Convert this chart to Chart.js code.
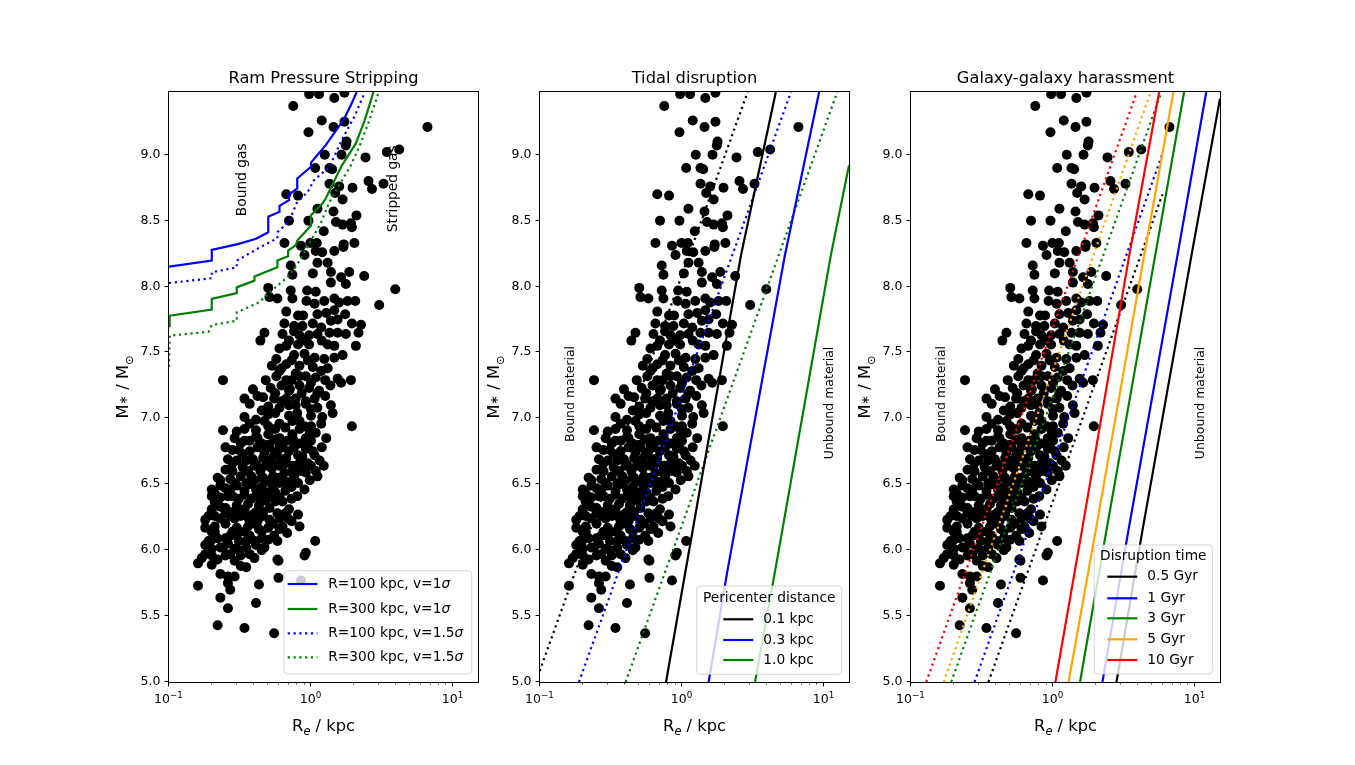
<!DOCTYPE html>
<html><head><meta charset="utf-8">
<script src="https://cdn.jsdelivr.net/npm/chart.js@4.4.0/dist/chart.umd.min.js"></script>
<style>
html,body{margin:0;padding:0;background:#fff;width:1355px;height:765px;overflow:hidden;}
.p{position:absolute;top:40px;width:410px;height:725px;}
</style></head><body>
<div class="p" id="w0"><canvas id="c0"></canvas></div>
<div class="p" id="w1"><canvas id="c1"></canvas></div>
<div class="p" id="w2"><canvas id="c2"></canvas></div>
<script>
// ---------- DATA ----------
const galaxyRe = [
0.97,1.14,1.46,1.72,0.75,1.19,1.72,1.44,0.96,6.61,
1.78,1.76,1.25,1.64,2.42,3.42,4.18,1.35,1.07,1.41,
2.54,2.69,3.24,1.96,1.35,1.58,1.48,0.67,0.81,1.67,
1.11,1.44,2.09,0.70,0.96,1.50,1.67,1.91,1.94,1.23,
0.65,0.99,1.10,1.70,2.02,0.85,
0.90,1.08,1.20,1.46,1.69,0.72,0.74,1.03,1.11,1.31,
1.38,1.86,1.63,1.38,1.76,2.37,3.92,0.50,0.51,0.58,
0.72,0.74,0.94,1.08,0.93,1.06,1.24,1.46,1.58,1.81,
2.05,3.02,0.67,0.81,0.88,1.11,1.28,1.46,1.74,1.38,
1.54,0.76,0.87,1.03,1.18,1.94,2.25,0.47,0.44,0.63,
0.70,0.83,0.97,1.11,1.35,1.54,1.76,2.16,0.81,0.97,
1.31,2.07,0.60,0.67,0.57,0.76,0.90,1.06,1.24,1.46,
1.67,0.67,0.83,1.03,1.18,0.24,0.48,0.57,0.67,0.78,
0.92,1.08,1.54,1.63,1.91,0.39,0.52,0.62,0.70,0.83,
0.97,1.14,0.46,0.55,0.67,0.78,0.92,1.06,0.37,1.38,
0.50,0.34,0.41,0.60,0.70,0.92,1.11,1.42,1.20,1.18,
1.94,0.24,0.41,0.60,0.74,0.90,1.08,1.28,0.42,0.50,
0.60,0.74,0.92,0.25,0.28,0.32,0.42,0.51,0.63,0.76,
0.95,1.03,0.33,0.30,0.39,0.46,0.55,0.67,0.81,1.06,
0.33,0.40,0.48,0.60,0.74,0.90,0.25,0.22,0.27,0.32,
0.38,0.45,0.54,0.65,0.76,0.92,1.11,0.20,0.25,0.30,
0.37,0.45,0.54,0.60,0.72,0.90,0.20,0.23,0.28,0.34,
0.41,0.50,0.60,0.63,0.25,0.30,0.36,0.43,0.51,0.70,
0.81,0.21,0.27,0.32,0.39,0.46,0.51,0.18,0.18,0.21,
0.25,0.30,0.36,0.43,0.50,0.60,0.63,0.68,0.22,0.27,
0.31,0.37,0.45,1.07,0.18,0.20,0.24,0.29,0.35,0.41,
0.47,0.92,0.90,0.17,0.20,0.25,0.32,0.58,0.16,0.20,
0.32,0.35,0.59,0.23,0.26,0.29,0.59,0.43,0.16,0.26,
0.27,0.23,0.41,0.26,0.22,0.34,0.55,0.85,
0.45,0.80,1.00,0.34,0.50,0.66,0.83,1.00,0.29,0.37,
0.47,0.58,0.70,0.87,1.19,0.36,0.44,0.53,0.66,0.83,
1.00,0.28,0.23,0.34,0.41,0.48,0.66,0.80,0.23,0.28,
0.34,0.41,0.58,0.69,0.56,0.20,0.28,0.34,0.40,0.55,
0.19,0.26,0.22,0.29,0.40,0.34,1.26,1.37,
0.53,0.62,0.73,0.95,1.31,1.46,0.56,1.26,0.73,0.86,
1.00,0.70,0.62,0.42,1.11,0.65,1.19,0.90,0.76,
0.30,0.37,0.45,0.55,0.68,0.83,1.00,0.26,0.35,0.51,
0.62,0.73,0.95,1.15,0.23,0.29,0.40,0.50,0.67,0.81,
0.98,1.23,0.31,
0.21,0.26,0.31,0.38,0.45,0.53,0.73,0.19,0.23,0.29,
0.36,0.42,0.60,0.73,0.83,0.20,0.25,0.30,0.40,0.50,
0.58,0.27,0.37,0.23,
0.21,0.27,0.35,0.45,0.56,0.20,0.25,0.30,0.37,0.46,
0.54,0.66,0.21,0.35,0.45,0.18,0.31,0.45,0.34,0.41,
0.50,0.60,0.75,0.92,0.28,0.41,0.56,0.83,1.08,0.46,
0.60,0.73,0.37,0.47,0.56,0.83,0.98,0.56,0.78,0.50,
0.71,1.00,0.83,0.60];
const galaxyMass = [
9.46,9.46,9.43,9.47,9.37,9.26,9.25,9.21,9.17,9.21,
9.10,9.07,9.00,9.00,8.98,9.02,9.04,8.90,8.90,8.89,
8.80,8.74,8.78,8.75,8.78,8.76,8.71,8.70,8.69,8.66,
8.59,8.57,8.54,8.50,8.50,8.49,8.47,8.48,8.45,8.42,
8.33,8.33,8.33,8.32,8.33,8.31,
8.24,8.27,8.26,8.27,8.30,8.16,8.09,8.10,8.18,8.18,
8.11,8.11,8.07,8.03,8.02,8.08,7.98,7.99,7.92,7.91,
7.97,7.91,7.97,7.96,7.89,7.87,7.89,7.91,7.88,7.89,
7.89,7.86,7.81,7.78,7.78,7.79,7.80,7.82,7.79,7.74,
7.75,7.70,7.70,7.72,7.69,7.72,7.71,7.65,7.59,7.64,
7.59,7.63,7.63,7.64,7.65,7.65,7.64,7.65,7.56,7.56,
7.56,7.55,7.53,7.55,7.45,7.48,7.49,7.46,7.45,7.46,
7.48,7.41,7.40,7.39,7.36,7.29,7.29,7.32,7.29,7.34,
7.32,7.31,7.30,7.27,7.29,7.22,7.23,7.25,7.21,7.25,
7.23,7.21,7.16,7.15,7.15,7.15,7.13,7.15,7.11,7.10,
7.03,7.01,6.99,7.08,7.10,7.11,7.08,7.04,7.01,6.96,
6.94,6.91,6.91,6.96,6.98,6.94,6.89,6.85,6.85,6.88,
6.85,6.88,6.85,6.78,6.76,6.81,6.78,6.78,6.78,6.78,
6.79,6.75,6.73,6.68,6.69,6.70,6.72,6.70,6.72,6.72,
6.63,6.64,6.64,6.64,6.64,6.65,6.61,6.55,6.54,6.56,
6.56,6.55,6.56,6.59,6.56,6.59,6.56,6.46,6.47,6.49,
6.50,6.48,6.49,6.51,6.50,6.46,6.41,6.40,6.41,6.42,
6.41,6.44,6.40,6.37,6.32,6.34,6.35,6.34,6.32,6.31,
6.27,6.26,6.26,6.26,6.27,6.26,6.23,6.23,6.17,6.18,
6.20,6.17,6.18,6.16,6.17,6.16,6.18,6.13,6.09,6.11,
6.07,6.11,6.09,6.07,6.04,6.01,6.02,6.01,6.02,6.04,
6.02,5.98,5.96,5.94,5.96,5.96,5.96,5.93,5.90,5.89,
5.88,5.87,5.92,5.82,5.80,5.80,5.79,5.74,5.73,5.75,
5.70,5.64,5.60,5.56,5.43,5.41,5.37,5.77,
7.06,7.04,7.02,6.92,6.94,6.93,6.92,6.83,6.85,6.75,
6.74,6.75,6.75,6.71,6.78,6.60,6.60,6.62,6.66,6.60,
6.64,6.60,6.49,6.45,6.46,6.38,6.45,6.41,6.33,6.29,
6.31,6.29,6.28,6.24,6.37,6.14,6.14,6.14,6.20,6.11,
6.07,6.05,5.93,5.92,5.94,7.15,7.17,7.25,
7.40,7.38,7.44,7.44,7.38,7.55,7.19,7.29,7.29,7.19,
7.07,7.02,7.13,7.17,7.19,7.72,7.59,7.59,7.66,
6.90,6.83,6.81,6.84,6.83,6.81,6.94,6.69,6.68,6.68,
6.69,6.59,6.66,6.68,6.53,6.51,6.53,6.52,6.52,6.51,
6.53,6.64,6.76,
6.37,6.41,6.39,6.39,6.37,6.41,6.39,6.26,6.24,6.24,
6.25,6.22,6.24,6.22,6.18,6.08,6.09,6.11,6.07,6.08,
6.07,5.97,5.97,6.02,
6.43,6.46,6.51,6.44,6.44,6.31,6.28,6.31,6.22,6.29,
6.20,6.28,6.14,6.07,6.14,5.97,6.00,6.00,6.83,6.86,
6.80,6.80,6.84,6.77,6.66,6.65,6.65,6.66,6.60,6.55,
6.55,6.48,6.96,6.98,6.92,6.98,6.90,7.04,7.10,7.09,
7.22,7.27,7.32,7.36];

// Ram pressure stripping curves [Re, logM]
const ramR100v1 = [[0.1,8.151],[0.2,8.197],[0.2,8.278],[0.31,8.324],[0.41,8.362],[0.5,8.412],[0.5,8.530],[0.6,8.567],[0.6,8.612],[0.7,8.655],[0.7,8.698],[0.8,8.744],[0.8,8.82],[1.0,8.909],[1.0,8.94],[1.27,9.073],[1.71,9.271],[1.91,9.377],[2.1,9.476]];
const ramR300v1 = [[0.1,7.70],[0.101,7.779],[0.2,7.825],[0.2,7.906],[0.3,7.951],[0.3,7.994],[0.4,8.045],[0.4,8.077],[0.58,8.146],[0.58,8.197],[0.69,8.23],[0.69,8.273],[0.78,8.313],[0.8,8.349],[1.0,8.463],[1.0,8.541],[1.2,8.628],[1.27,8.668],[1.63,8.909],[2.07,9.086],[2.37,9.251],[2.58,9.377],[2.75,9.476]];
const ramR100v15 = [[0.1,8.027],[0.2,8.063],[0.2,8.108],[0.3,8.146],[0.3,8.197],[0.43,8.293],[0.58,8.367],[0.58,8.412],[0.7,8.495],[0.8,8.643],[0.95,8.719],[1.05,8.807],[1.35,8.909],[1.67,9.124],[2.02,9.289],[2.4,9.476]];
const ramR300v15 = [[0.1,7.39],[0.101,7.627],[0.19,7.657],[0.2,7.708],[0.3,7.741],[0.3,7.804],[0.43,7.88],[0.53,7.97],[0.68,8.07],[0.79,8.159],[1.0,8.349],[1.17,8.48],[1.35,8.643],[1.58,8.769],[1.91,8.921],[2.19,9.061],[2.58,9.263],[3.0,9.476]];
const ramLabels = ['R=100 kpc, v=1', 'R=300 kpc, v=1', 'R=100 kpc, v=1.5', 'R=300 kpc, v=1.5'];

// Tidal disruption curves
const tidal01 = [[0.772,5.0],[1.22,6.22],[2.60,8.235],[4.58,9.476]];
const tidal03 = [[1.54,5.0],[2.09,5.845],[5.30,8.235],[9.24,9.476]];
const tidal10 = [[3.27,5.0],[4.53,5.845],[11.16,8.235],[15,8.92]];
const tidal01Dot = [[0.0933,5.0],[2.9,9.476]];
const tidal03Dot = [[0.188,5.0],[5.85,9.476]];
const tidal10Dot = [[0.401,5.0],[12.4,9.476]];
const tidalLabels = ['0.1 kpc','0.3 kpc','1.0 kpc'];

// Harassment curves
const har05 = [[2.80,5.0],[4.27,6.152],[9.44,8.235],[15,9.426]];
const har1 = [[2.23,5.0],[3.40,6.152],[7.52,8.235],[12.0,9.476]];
const har3 = [[1.55,5.0],[2.38,6.152],[5.24,8.235],[8.38,9.476]];
const har5 = [[1.287,5.0],[2.00,6.152],[4.38,8.235],[7.05,9.476]];
const har10 = [[1.04,5.0],[1.60,6.152],[3.44,8.235],[5.59,9.476]];
const har05Dot = [[0.351,5.0],[5.90,8.70]];
const har1Dot = [[0.28,5.0],[5.90,9.008]];
const har3Dot = [[0.192,5.0],[5.80,9.476]];
const har5Dot = [[0.170,5.0],[4.87,9.476]];
const har10Dot = [[0.128,5.0],[3.90,9.476]];
const harLabels = ['0.5 Gyr','1 Gyr','3 Gyr','5 Gyr','10 Gyr'];

const xTickValues = [0.1, 1, 10];
const xTickExp = ['\u22121', '0', '1'];
const xMinorValues = [0.2,0.3,0.4,0.5,0.6,0.7,0.8,0.9,2,3,4,5,6,7,8,9];
const yTickValues = [5.0,5.5,6.0,6.5,7.0,7.5,8.0,8.5,9.0];
const titles = ['Ram Pressure Stripping','Tidal disruption','Galaxy-galaxy harassment'];

// ---------- RENDER ----------
const FAM = '"DejaVu Sans", sans-serif';
const BLUE='#0000ff', GREEN='#008000', BLACK='#000000', ORANGE='#ffa500', RED='#ff0000';
const LW=2.2, DOT=[2.2,3.6];
function font(s,it){return (it?'italic ':'')+s+'px '+FAM;}
function drawParts(ctx,x,y,parts,align){
  let w=0;
  parts.forEach(p=>{ctx.font=font(p.s,p.it);p.w=ctx.measureText(p.t).width;w+=p.w;});
  let cx = align==='center'?x-w/2:(align==='right'?x-w:x);
  ctx.textAlign='left';
  parts.forEach(p=>{ctx.font=font(p.s,p.it);ctx.fillText(p.t,cx,y+(p.dy||0));cx+=p.w;});
}
function roundRect(ctx,x,y,w,h,r){ctx.beginPath();ctx.moveTo(x+r,y);ctx.arcTo(x+w,y,x+w,y+h,r);ctx.arcTo(x+w,y+h,x,y+h,r);ctx.arcTo(x,y+h,x,y,r);ctx.arcTo(x,y,x+w,y,r);ctx.closePath();}

function lineDs(pairs,color,dotted){
  return {data:pairs.map(p=>({x:p[0],y:p[1]})),showLine:true,borderColor:color,backgroundColor:color,
    borderWidth:LW,borderDash:dotted?DOT:[],borderCapStyle:'butt',pointRadius:0,pointHoverRadius:0,
    fill:false,tension:0,order:1,clip:0};
}
function scatterDs(){
  return {data:galaxyRe.map((x,i)=>({x:x,y:galaxyMass[i]})),pointRadius:5,pointHoverRadius:5,
    pointBackgroundColor:'#000',pointBorderColor:'#000',pointBorderWidth:0,showLine:false,order:5,clip:0};
}

const panels = [
 { datasets:[lineDs(ramR100v1,BLUE,false),lineDs(ramR300v1,GREEN,false),lineDs(ramR100v15,BLUE,true),lineDs(ramR300v15,GREEN,true)],
   notes:[{t:'Bound gas',x:0.33,y:8.81,s:13.75},{t:'Stripped gas',x:3.8,y:8.742,s:13.75}],
   legend:{right:6.3,bottom:8,w:187.7,h:103.3,title:null,h0:3.7,h1:33.3,tx:44.3,rows:[13.3,38.3,62.6,86.6]},
   entries:ramLabels.map((l,i)=>({parts:[{t:l,s:13.75},{t:'\u03c3',s:13.75,it:true}],color:[BLUE,GREEN,BLUE,GREEN][i],dotted:i>=2})) },
 { datasets:[lineDs(tidal01,BLACK,false),lineDs(tidal03,BLUE,false),lineDs(tidal10,GREEN,false),lineDs(tidal01Dot,BLACK,true),lineDs(tidal03Dot,BLUE,true),lineDs(tidal10Dot,GREEN,true)],
   notes:[{t:'Bound material',x:0.165,y:7.185,s:12.5},{t:'Unbound material',x:11.0,y:7.117,s:12.5}],
   legend:{right:7.3,bottom:7.7,w:145,h:88.3,title:'Pericenter distance',titleY:12.3,h0:26.6,h1:56.6,tx:66.6,rows:[33.3,54,74]},
   entries:tidalLabels.map((l,i)=>({parts:[{t:l,s:13.75}],color:[BLACK,BLUE,GREEN][i],dotted:false})) },
 { datasets:[lineDs(har05,BLACK,false),lineDs(har1,BLUE,false),lineDs(har3,GREEN,false),lineDs(har5,ORANGE,false),lineDs(har10,RED,false),
             lineDs(har05Dot,BLACK,true),lineDs(har1Dot,BLUE,true),lineDs(har3Dot,GREEN,true),lineDs(har5Dot,ORANGE,true),lineDs(har10Dot,RED,true)],
   notes:[{t:'Bound material',x:0.165,y:7.185,s:12.5},{t:'Unbound material',x:11.0,y:7.117,s:12.5}],
   legend:{right:7.7,bottom:8,w:118,h:129,title:'Disruption time',titleY:11,h0:13,h1:43,tx:53,rows:[31.7,53.3,73.3,94.3,115]},
   entries:harLabels.map((l,i)=>({parts:[{t:l,s:13.75}],color:[BLACK,BLUE,GREEN,ORANGE,RED][i],dotted:false})) }
];
const areaLefts=[169,540,911];

function makePlugin(pi){
  const P=panels[pi];
  return {id:'mpl'+pi, afterDatasetsDraw(chart){
    const ctx=chart.ctx,a=chart.chartArea,xs=chart.scales.x,ys=chart.scales.y;
    ctx.save();
    ctx.fillStyle='#000';
    P.notes.forEach(n=>{ctx.save();ctx.translate(xs.getPixelForValue(n.x),ys.getPixelForValue(n.y));ctx.rotate(-Math.PI/2);
      ctx.font=font(n.s);ctx.textAlign='center';ctx.textBaseline='middle';ctx.fillText(n.t,0,0);ctx.restore();});
    const L=P.legend, bx=a.right-L.right-L.w, by=a.bottom-L.bottom-L.h;
    roundRect(ctx,bx,by,L.w,L.h,3.5);
    ctx.fillStyle='rgba(255,255,255,0.8)';ctx.fill();
    ctx.strokeStyle='rgba(204,204,204,0.8)';ctx.lineWidth=1;ctx.stroke();
    ctx.fillStyle='#000';ctx.textBaseline='middle';
    if(L.title){ctx.font=font(13.75);ctx.textAlign='center';ctx.fillText(L.title,bx+L.w/2,by+L.titleY);}
    P.entries.forEach((e,i)=>{const y=by+L.rows[i];
      ctx.beginPath();ctx.setLineDash(e.dotted?DOT:[]);ctx.lineCap='butt';ctx.strokeStyle=e.color;ctx.lineWidth=LW;
      ctx.moveTo(bx+L.h0,y);ctx.lineTo(bx+L.h1,y);ctx.stroke();ctx.setLineDash([]);
      ctx.fillStyle='#000';ctx.textBaseline='middle';drawParts(ctx,bx+L.tx,y,e.parts,'left');});
    ctx.strokeStyle='#000';ctx.lineWidth=1;
    ctx.strokeRect(a.left-0.5,a.top-0.5,a.right-a.left+1,a.bottom-a.top+1);
    xTickValues.forEach((v,i)=>{const x=Math.round(xs.getPixelForValue(v))-0.5;
      ctx.beginPath();ctx.lineWidth=1;ctx.moveTo(x,a.bottom);ctx.lineTo(x,a.bottom+4.4);ctx.stroke();
      ctx.fillStyle='#000';ctx.textBaseline='alphabetic';
      drawParts(ctx,x,a.bottom+21,[{t:'10',s:12.5},{t:xTickExp[i],s:8.75,dy:-5.5}],'center');});
    xMinorValues.forEach(v=>{const x=Math.round(xs.getPixelForValue(v))-0.5;
      ctx.beginPath();ctx.lineWidth=0.75;ctx.moveTo(x,a.bottom);ctx.lineTo(x,a.bottom+2.5);ctx.stroke();});
    yTickValues.forEach(v=>{const y=Math.round(ys.getPixelForValue(v))-0.5;
      ctx.beginPath();ctx.lineWidth=1;ctx.moveTo(a.left,y);ctx.lineTo(a.left-4.4,y);ctx.stroke();
      ctx.font=font(12.5);ctx.textAlign='right';ctx.textBaseline='middle';ctx.fillText(v.toFixed(1),a.left-8.5,y);});
    ctx.font=font(16.25);ctx.textAlign='center';ctx.textBaseline='alphabetic';
    ctx.fillText(titles[pi],(a.left+a.right)/2,a.top-9.3);
    drawParts(ctx,(a.left+a.right)/2,a.bottom+49,[{t:'R',s:16.25},{t:'e',s:11.4,dy:3.5,it:true},{t:' / kpc',s:16.25}],'center');
    ctx.save();ctx.translate(a.left-41,(a.top+a.bottom)/2);ctx.rotate(-Math.PI/2);
    drawParts(ctx,0,0,[{t:'M',s:16.25},{t:'\u2217',s:11.4,dy:-1.5},{t:' / M',s:16.25},{t:'\u2299',s:11.4,dy:5}],'center');
    ctx.restore();
    ctx.restore();
  }};
}

panels.forEach((P,pi)=>{
  const w=document.getElementById('w'+pi);
  w.style.left=(areaLefts[pi]-80)+'px';
  const ds=[scatterDs()].concat(P.datasets);
  new Chart(document.getElementById('c'+pi),{
    type:'scatter',
    data:{datasets:ds},
    options:{responsive:true,maintainAspectRatio:false,animation:false,events:[],
      layout:{padding:{left:80,right:21,top:52,bottom:83}},
      scales:{x:{type:'logarithmic',min:0.1,max:15,display:false},y:{type:'linear',min:5,max:9.476,display:false}},
      plugins:{legend:{display:false},tooltip:{enabled:false},title:{display:false}}},
    plugins:[makePlugin(pi)]
  });
});
</script>
</body></html>
